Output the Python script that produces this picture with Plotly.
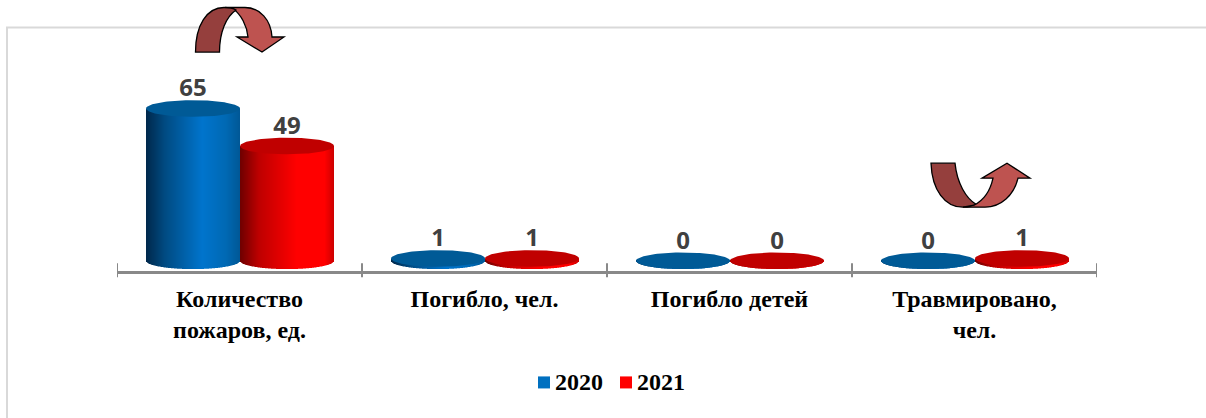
import numpy as np
import plotly.graph_objects as go

categories = ["Количество<br>пожаров, ед.", "Погибло, чел.", "Погибло детей", "Травмировано,<br>чел."]
series_names = ["2020", "2021"]
values_2020 = [65, 1, 0, 0]
values_2021 = [49, 1, 0, 1]

W, H = 1206, 418
L, R, T, B = 117, 1097, 20, 270.7     # plot area in pixels
PX_PER_UNIT = 2.34
Y0_PX = 260.5
y_top = (Y0_PX - T) / PX_PER_UNIT
y_bot = (Y0_PX - B) / PX_PER_UNIT
cat_px = (R - L) / 4
BAR_W = 94 / cat_px                    # width of one cylinder in category units
SHIFT = 0.5 / cat_px
ELL = 8.3 / PX_PER_UNIT                # half height of ellipse in data units
LABEL_GAP = 6.2 / PX_PER_UNIT
N = 94


def grad(stops, t):
    ts = [s[0] for s in stops]
    cs = np.array([s[1] for s in stops], float)
    return "rgb(%d,%d,%d)" % tuple(np.interp(t, ts, cs[:, i]) for i in range(3))


BLUE = [(0, (0, 40, 75)), (0.2, (0, 75, 130)), (0.6, (0, 117, 205)), (0.85, (0, 105, 180)), (1, (0, 88, 150))]
RED = [(0, (110, 0, 0)), (0.2, (190, 0, 0)), (0.6, (255, 0, 0)), (0.9, (255, 0, 0)), (1, (205, 0, 0))]
TOPS = ["#005A96", "#C00000"]
SWATCH = ["#0070C0", "#FF0000"]

fig = go.Figure()
t = (np.arange(N) + 0.5) / N
u = 2 * t - 1
rim = ELL * np.sqrt(1 - u ** 2)
theta = np.linspace(0, 2 * np.pi, 121)

for name, vals, stops, top, off in zip(series_names, [values_2020, values_2021], [BLUE, RED], TOPS, [-0.5, 0.5]):
    xs, ys, bases, cols = [], [], [], []
    for i, v in enumerate(vals):
        xs.extend(i + SHIFT + off * BAR_W + u * BAR_W / 2)
        bases.extend(-rim)
        ys.extend(v + rim)
        cols.extend(grad(stops, x) for x in t)
    fig.add_trace(go.Bar(x=xs, y=ys, base=bases, width=BAR_W / N, name=name,
                         marker=dict(color=cols, line=dict(width=0)), showlegend=False, hoverinfo="skip"))
    for i, v in enumerate(vals):
        fig.add_trace(go.Scatter(x=i + SHIFT + off * BAR_W + np.cos(theta) * BAR_W / 2, y=v + ELL * np.sin(theta),
                                 mode="lines", fill="toself", fillcolor=top, line=dict(width=0),
                                 showlegend=False, hoverinfo="skip"))
    fig.add_trace(go.Scatter(x=[i + SHIFT + off * BAR_W for i in range(4)], y=[v + LABEL_GAP for v in vals],
                             mode="text", text=[str(v) for v in vals], textposition="top center",
                             textfont=dict(family="Noto Sans", size=24, color="#404040", weight="bold"),
                             showlegend=False, hoverinfo="skip", cliponaxis=False))


def px(x):
    return (x - L) / (R - L)


def py(y):
    return (B - y) / (B - T)


def path(segments):
    out = []
    for cmd, pts in segments:
        if cmd == "L":
            out.extend(f"L{px(a):.5f},{py(b):.5f}" for a, b in pts)
        else:
            out.append(cmd + " ".join(f"{px(a):.5f},{py(b):.5f}" for a, b in pts))
    return " ".join(out) + " Z"


def shape(d, fill=None, lw=1.3, col="#000000", layer="above"):
    return dict(type="path", path=d, xref="paper", yref="paper", fillcolor=fill, layer=layer,
                line=dict(color=col, width=lw))


DARK, LIGHT = "#953F3D", "#BE5350"
shapes = []
# frame
shapes.append(dict(type="rect", xref="paper", yref="paper", x0=px(7), x1=px(1300), y0=py(27.5), y1=py(500),
                   line=dict(color="#D9D9D9", width=2), layer="below"))
# arrow 1 : over-the-top, pointing down
shapes.append(shape(path([("M", [(225, 7.5)]), ("L", [(245, 7.5)]),
                          ("C", [(260, 7.5), (271, 20), (272, 37)]),
                          ("L", [(284, 37), (262, 52), (237, 37), (248, 37)]),
                          ("C", [(247, 26), (241, 14), (233, 9)])]), LIGHT))
shapes.append(shape(path([("M", [(195.5, 52)]), ("C", [(195.5, 25), (207, 7.5), (224, 7.5)]),
                          ("C", [(229, 7.5), (233, 8), (236, 10)]),
                          ("C", [(226, 17), (219.5, 32), (219.5, 52)])]), DARK))
# arrow 2 : under, pointing up
shapes.append(shape(path([("M", [(931, 163)]), ("L", [(955, 163)]),
                          ("C", [(957, 183), (966, 198), (976, 204)]),
                          ("C", [(973, 206), (968, 207), (963, 207)]),
                          ("C", [(945, 207), (932, 190), (931, 163)])]), DARK))
shapes.append(shape(path([("M", [(963, 207)]), ("L", [(985, 207)]),
                          ("C", [(1001, 207), (1014, 195), (1018, 178)]),
                          ("L", [(1030, 178), (1007, 163), (982, 178), (993, 178)]),
                          ("C", [(990, 192), (984, 200), (974, 205)])]), LIGHT))
# axis ticks either side of the axis at category boundaries
for b in np.arange(-0.5, 4, 1):
    shapes.append(dict(type="line", xref="x", yref="paper", x0=b, x1=b, y0=py(263), y1=py(277),
                       line=dict(color="#898989", width=2)))
# legend swatches
for x0, c in zip([538, 620], SWATCH):
    shapes.append(dict(type="rect", xref="paper", yref="paper", x0=px(x0), x1=px(x0 + 12), y0=py(376), y1=py(388),
                       fillcolor=c, line=dict(width=0)))

annotations = [dict(x=px(x), y=py(382), xref="paper", yref="paper", text=f"<b>{n}</b>", showarrow=False,
                    xanchor="left", yanchor="middle",
                    font=dict(family="Liberation Serif", size=24, color="#000000"))
               for x, n in zip([553, 635], series_names)]

fig.update_layout(
    width=W, height=H, margin=dict(l=L, r=W - R, t=T, b=H - B, autoexpand=False),
    paper_bgcolor="white", plot_bgcolor="white", barmode="overlay", showlegend=False,
    shapes=shapes, annotations=annotations,
    xaxis=dict(range=[-0.5, 3.5], tickvals=list(range(4)), ticktext=[f"<b>{c}</b>".replace("<br>", "</b><br><b>") for c in categories],
               ticks="", showgrid=False, zeroline=False, showline=True, linecolor="#898989", linewidth=2.5,
               ticklabelstandoff=4, tickangle=0,
               tickfont=dict(family="Liberation Serif", size=24, color="#000000")),
    yaxis=dict(range=[y_bot, y_top], visible=False, fixedrange=True),
)
fig.write_html("out.html", config=dict(displayModeBar=False), post_script="document.body.style.margin='0';")
